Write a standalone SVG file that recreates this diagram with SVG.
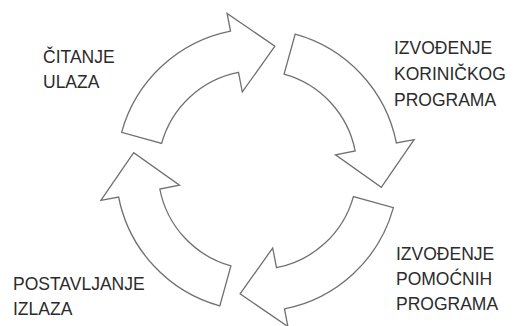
<svg xmlns="http://www.w3.org/2000/svg" width="519" height="326" viewBox="0 0 519 326">
<style>
.arrow{fill:#ffffff;stroke:#707070;stroke-width:1.3;stroke-linejoin:miter}
.lbl{font-family:"Liberation Sans",Arial,sans-serif;font-size:17.5px;fill:#2b2b2b}
</style>
<defs>
<path id="arr" d="M121.6,132.3 A141.5,141.5 0 0 1 230.5,31.1 L227.1,13.4 L274.9,46.2 L242.3,92 L238.5,72.3 A99.5,99.5 0 0 0 161.6,143.4 Z"/>
</defs>
<rect width="519" height="326" fill="#ffffff"/>
<g id="connectors">
<use href="#arr" class="arrow"/>
<use href="#arr" class="arrow" transform="rotate(90 257.5 170)"/>
<use href="#arr" class="arrow" transform="rotate(180 257.5 170)"/>
<use href="#arr" class="arrow" transform="rotate(270 257.5 170)"/>
</g>
<g id="node-citanje">
<text class="lbl" x="43" y="63.3">ČITANJE</text>
<text class="lbl" x="43" y="87.7">ULAZA</text>
</g>
<g id="node-izvodjenje-korisnickog">
<text class="lbl" x="394" y="53.5">IZVOĐENJE</text>
<text class="lbl" x="394" y="80">KORINIČKOG</text>
<text class="lbl" x="394" y="106">PROGRAMA</text>
</g>
<g id="node-izvodjenje-pomocnih">
<text class="lbl" x="396" y="259.5">IZVOĐENJE</text>
<text class="lbl" x="396" y="284.5">POMOĆNIH</text>
<text class="lbl" x="396" y="309.5">PROGRAMA</text>
</g>
<g id="node-postavljanje">
<text class="lbl" x="13" y="289.5">POSTAVLJANJE</text>
<text class="lbl" x="13" y="314.5">IZLAZA</text>
</g>
</svg>
